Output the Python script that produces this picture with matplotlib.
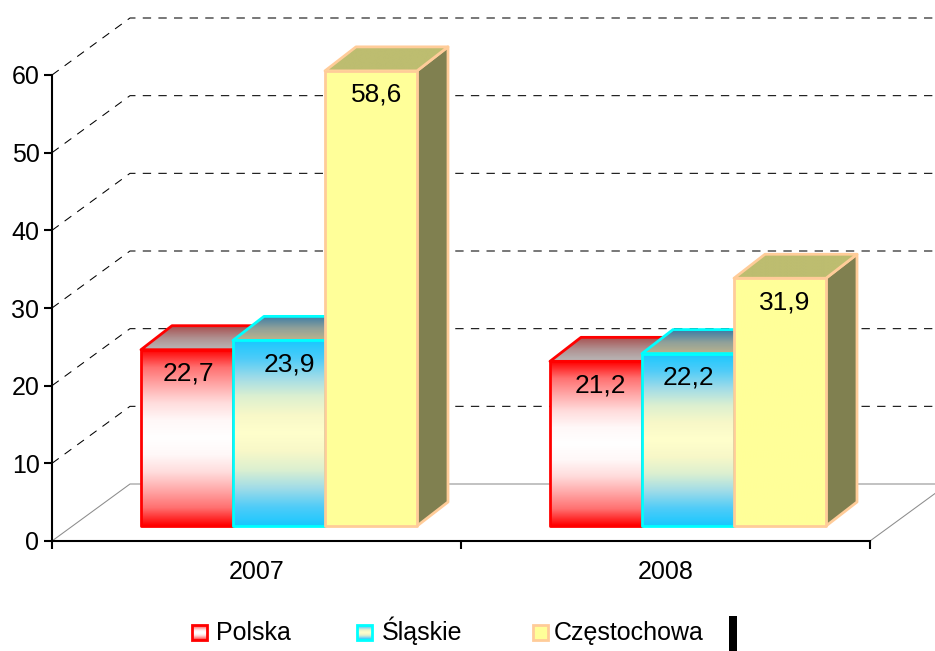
import numpy as np
import matplotlib
matplotlib.use('Agg')
import matplotlib.pyplot as plt
from matplotlib.colors import LinearSegmentedColormap
from matplotlib.patches import Polygon, Rectangle

plt.rcParams['font.family'] = ['Liberation Sans', 'DejaVu Sans']

years = ['2007', '2008']
series = ['Polska', 'Śląskie', 'Częstochowa']
polska = [22.7, 21.2]
slaskie = [23.9, 22.2]
czestochowa = [58.6, 31.9]
y_ticks = [0, 10, 20, 30, 40, 50, 60]

W, H = 935, 651
X0, X1 = 52, 870
Y0, Y60 = 541, 75

fig = plt.figure(figsize=(W / 100, H / 100), dpi=100)
ax = fig.add_axes([X0 / W, 1 - Y0 / H, (X1 - X0) / W, (Y0 - Y60) / H])
ax.patch.set_alpha(0)

# one pixel in data units
px = 2 / (X1 - X0)
py = 60 / (Y0 - Y60)

# gradient colours, bottom to top
front_maps = [
    [(0, '#ff0000'), (0.1, '#ff7070'), (0.2, '#ffa8a8'), (0.3, '#ffdcdc'), (0.4, '#fff8f8'), (0.5, '#ffffff'),
     (0.6, '#fff8f8'), (0.7, '#ffdcdc'), (0.8, '#ffa8a8'), (0.9, '#ff7070'), (1, '#ff0000')],
    [(0, '#19c8ff'), (0.1, '#50ccf8'), (0.2, '#a0dce8'), (0.3, '#dcf0d0'), (0.4, '#f8f8c8'), (0.5, '#ffffcc'),
     (0.6, '#f8f8c8'), (0.7, '#dcf0d0'), (0.8, '#a0dce8'), (0.9, '#50ccf8'), (1, '#19c8ff')],
    ['#ffff99', '#ffff99'],
]
top_maps = [
    ['#b8b8b8', '#b09090', '#a85050'],
    ['#bdb48c', '#8ea09a', '#3c7ca6'],
    ['#bdbd70', '#bdbd70'],
]
side_colors = ['#800000', '#0f6480', '#808050']
edge_colors = ['#ff0000', '#00ffff', '#ffcc99']


def gradient(axis, stops, extent, clip=None, zorder=3):
    cmap = LinearSegmentedColormap.from_list('g', stops)
    im = axis.imshow(np.linspace(1, 0, 128).reshape(-1, 1), cmap=cmap, vmin=0, vmax=1,
                     extent=extent, aspect='auto', interpolation='bilinear',
                     zorder=zorder, clip_on=clip is not None)
    if clip is not None:
        im.set_clip_path(clip)
        im.set_clip_box(fig.bbox)


# back wall and left wall
deep_x, deep_y = 78 * px, 57 * py
for t in y_ticks:
    color = '#8c8c8c' if t == 0 else 'black'
    ls = '-' if t == 0 else (0, (8, 7))
    ax.plot([0, deep_x, 2.2], [t, t + deep_y, t + deep_y], color=color, lw=0.75,
            ls=ls, clip_on=False, zorder=1)
ax.plot([2, 2 + deep_x], [0, deep_y], color='#8c8c8c', lw=0.75, clip_on=False, zorder=1)

# the bars
bar_w = 92 * px
lift = 15 * py
dx, dy = 31 * px, 24 * py
label_shift = [[1, 10, 6], [4, 0, 5]]
for i in range(len(years)):
    left = i + 0.2176
    for s, values in enumerate([polska, slaskie, czestochowa]):
        x = left + s * bar_w
        top = values[i] + lift
        z = 3 + s * 2 + i * 10
        side = Polygon([(x + bar_w, lift), (x + bar_w + dx, lift + dy), (x + bar_w + dx, top + dy), (x + bar_w, top)],
                       fc=side_colors[s], ec=edge_colors[s], lw=2, clip_on=False, zorder=z, joinstyle='round')
        ax.add_patch(side)
        roof = Polygon([(x, top), (x + dx, top + dy), (x + bar_w + dx, top + dy), (x + bar_w, top)],
                       fc='none', ec=edge_colors[s], lw=2, clip_on=False, zorder=z + 1, joinstyle='round')
        ax.add_patch(roof)
        clip_roof = Polygon(roof.get_xy(), transform=ax.transData)
        gradient(ax, top_maps[s], [x, x + bar_w + dx, top, top + dy], clip=clip_roof, zorder=z)
        gradient(ax, front_maps[s], [x, x + bar_w, lift, top], clip=Rectangle((x, lift), bar_w, values[i], transform=ax.transData), zorder=z + 1)
        ax.add_patch(Rectangle((x, lift), bar_w, values[i], fc='none', ec=edge_colors[s], lw=2,
                               clip_on=False, zorder=z + 1.5, joinstyle='round'))
        ax.text(x + bar_w / 2 + label_shift[i][s] * px, top - 24 * py, f'{values[i]:.1f}'.replace('.', ','),
                ha='center', va='center', fontsize=19, color='black', zorder=40)

# axes
ax.set_xlim(0, 2)
ax.set_ylim(0, 60)
ax.set_yticks(y_ticks)
ax.set_xticks([0, 1, 2])
ax.set_xticklabels([])
ax.set_xticks([0.5, 1.5], labels=years, minor=True)
ax.tick_params(axis='x', which='minor', length=0, labelsize=18, pad=14)
ax.tick_params(axis='x', which='major', length=6, width=1.5, direction='out')
ax.tick_params(axis='y', length=6, width=1.5, direction='out', labelsize=18, pad=3)
for name in ['top', 'right']:
    ax.spines[name].set_visible(False)
for name in ['left', 'bottom']:
    ax.spines[name].set_linewidth(1.5)
    ax.spines[name].set_zorder(2)

# legend
legend_x = [192, 357, 533]
text_x = [216, 382, 554]
for s, name in enumerate(series):
    sw = fig.add_axes([legend_x[s] / W, 1 - 640 / H, 15 / W, 15 / H])
    sw.set_axis_off()
    gradient(sw, front_maps[s], [0, 1, 0, 1], zorder=1)
    sw.add_patch(Rectangle((0, 0), 1, 1, fc='none', ec=edge_colors[s], lw=2, clip_on=False, zorder=2))
    sw.set_xlim(0, 1)
    sw.set_ylim(0, 1)
    fig.text(text_x[s] / W, 1 - 640 / H, name, fontsize=18, ha='left', va='baseline', color='black')

# black mark right of the legend
fig.add_artist(Rectangle((729 / W, 0), 8 / W, 35 / H, fc='black', ec='none', transform=fig.transFigure))

fig.savefig('out.png', dpi=100)
